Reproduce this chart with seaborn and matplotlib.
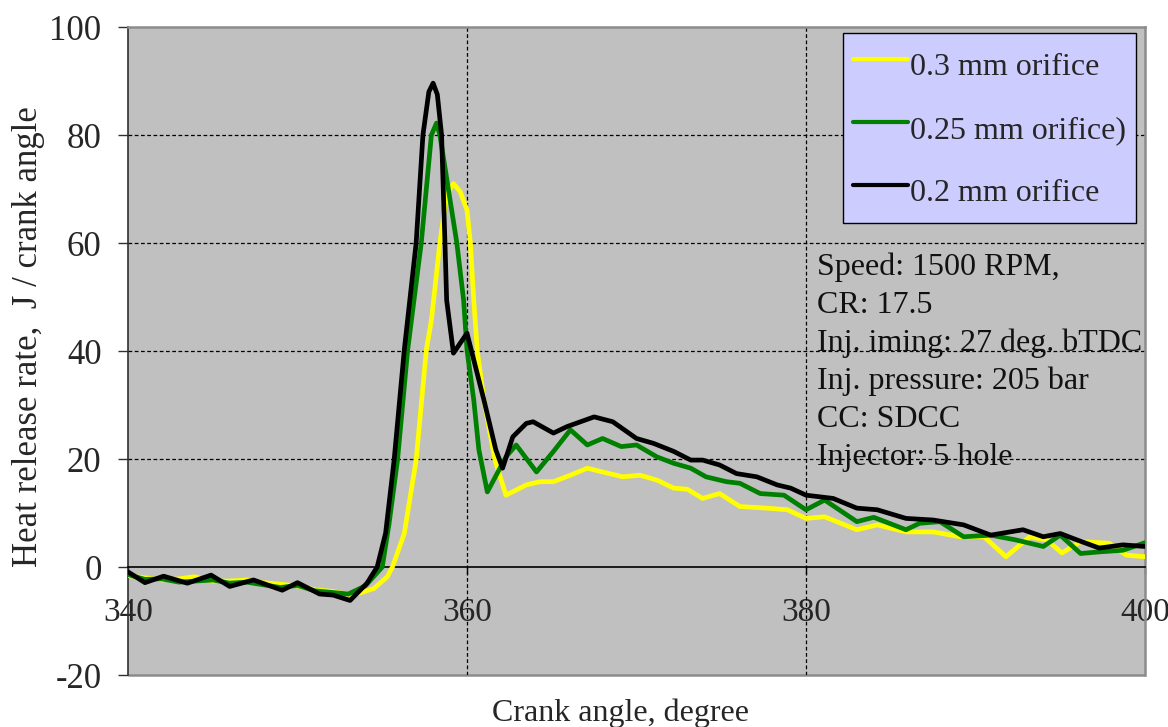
import numpy as np
import pandas as pd
import matplotlib
matplotlib.use("Agg")
import matplotlib.pyplot as plt
from matplotlib.patches import Rectangle
import seaborn as sns

# Heat release rate vs crank angle for three injector orifice diameters
labels = ["0.3 mm orifice", "0.25 mm orifice)", "0.2 mm orifice"]
colors = ["#FFFF00", "#008000", "#000000"]

angle_03 = [340.0, 341.0, 342.0, 343.0, 343.9, 345.0, 346.0, 347.0, 348.0, 349.0,
            350.0, 351.0, 352.0, 353.3, 354.5, 355.3, 355.6, 356.3, 357.0, 357.6,
            357.9, 358.4, 358.8, 359.2, 359.6, 360.0, 360.2, 360.4, 360.6, 361.0,
            361.65, 362.3, 363.5, 364.3, 365.1, 366.1, 367.1, 368.0, 369.2, 370.2,
            371.2, 372.2, 373.0, 373.9, 374.9, 376.1, 377.7, 378.9, 380.0, 381.1,
            383.0, 384.2, 385.9, 387.5, 389.1, 390.5, 391.8, 393.2, 394.2, 395.1,
            396.2, 397.9, 398.9, 400.0]
hrr_03 = [-1.6, -2.0, -2.4, -2.2, -1.8, -2.6, -2.6, -2.4, -2.9, -3.2,
          -3.5, -4.2, -4.5, -5.2, -4.0, -1.8, 0.0, 6.2, 19.8, 40.2,
          45.7, 60.0, 69.0, 71.0, 69.5, 66.1, 60.0, 49.4, 40.2, 30.9,
          19.8, 13.3, 15.2, 15.8, 15.8, 17.0, 18.3, 17.6, 16.7, 17.0,
          16.1, 14.6, 14.4, 12.7, 13.6, 11.2, 10.9, 10.6, 9.0, 9.3,
          6.9, 7.8, 6.5, 6.5, 5.6, 5.6, 1.9, 5.6, 5.0, 2.6,
          4.7, 4.4, 2.2, 1.9]

angle_025 = [340.0, 341.0, 342.0, 343.0, 344.0, 345.0, 346.0, 347.0, 348.0, 349.0,
             350.0, 351.0, 352.0, 353.0, 354.0, 355.0, 355.4, 355.9, 356.5, 357.3,
             357.9, 358.2, 358.4, 358.9, 359.4, 359.8, 360.0, 360.4, 360.7, 361.2,
             362.3, 362.9, 364.1, 365.1, 366.1, 367.1, 368.0, 369.1, 370.0, 371.2,
             372.2, 373.2, 374.1, 375.3, 376.1, 377.3, 378.7, 380.0, 381.1, 383.0,
             384.0, 385.9, 386.7, 387.9, 389.3, 390.9, 392.4, 394.0, 395.0, 396.2,
             397.3, 398.7, 400.0]
hrr_025 = [-1.4, -2.3, -2.2, -2.8, -2.6, -2.4, -3.0, -2.8, -3.3, -3.8,
           -3.4, -4.4, -4.7, -5.0, -3.5, 0.0, 8.0, 19.8, 40.2, 60.0,
           80.0, 82.2, 80.0, 70.0, 60.0, 49.4, 40.2, 30.9, 21.7, 13.9,
           20.4, 22.6, 17.6, 21.4, 25.4, 22.6, 23.8, 22.3, 22.6, 20.4,
           19.2, 18.3, 16.7, 15.8, 15.5, 13.6, 13.3, 10.6, 12.4, 8.4,
           9.2, 6.9, 8.1, 8.4, 5.6, 5.9, 5.0, 3.8, 5.9, 2.5,
           2.8, 3.1, 4.5]

angle_02 = [340.0, 341.0, 342.1, 343.5, 344.9, 346.0, 347.4, 349.1, 350.0, 351.3,
            352.1, 353.1, 354.1, 354.7, 355.2, 355.7, 356.3, 357.0, 357.4, 357.75,
            358.0, 358.25, 358.5, 358.7, 358.8, 359.2, 360.0, 361.0, 361.7, 362.1,
            362.7, 363.5, 363.9, 365.1, 365.9, 367.5, 368.6, 370.0, 371.0, 372.2,
            373.2, 373.9, 374.9, 375.9, 377.1, 378.3, 379.1, 380.0, 381.6, 383.0,
            384.2, 385.9, 387.5, 389.3, 390.9, 392.8, 394.0, 395.0, 396.0, 397.3,
            398.7, 400.0]
hrr_02 = [-0.9, -2.9, -1.7, -3.0, -1.5, -3.6, -2.4, -4.3, -2.9, -5.0,
          -5.2, -6.2, -3.0, 0.0, 6.3, 19.8, 40.2, 60.0, 80.0, 88.0,
          89.6, 87.5, 80.0, 60.0, 49.4, 39.6, 43.3, 30.9, 21.7, 18.3,
          24.1, 26.6, 26.9, 24.8, 26.0, 27.8, 26.9, 23.8, 22.9, 21.4,
          19.8, 19.8, 18.9, 17.3, 16.7, 15.2, 14.6, 13.3, 12.7, 10.9,
          10.6, 9.0, 8.7, 7.8, 5.9, 6.9, 5.6, 6.2, 5.0, 3.5,
          4.1, 3.8]

x_ticks = [340, 360, 380, 400]
y_ticks = [-20, 0, 20, 40, 60, 80, 100]

conditions = ("Speed: 1500 RPM,\nCR: 17.5\nInj. iming: 27 deg. bTDC\n"
              "Inj. pressure: 205 bar\nCC: SDCC\nInjector: 5 hole")

df = pd.concat([
    pd.DataFrame({"angle": angle_03, "hrr": hrr_03, "orifice": labels[0]}),
    pd.DataFrame({"angle": angle_025, "hrr": hrr_025, "orifice": labels[1]}),
    pd.DataFrame({"angle": angle_02, "hrr": hrr_02, "orifice": labels[2]}),
], ignore_index=True)

sns.set_style("white")
plt.rcParams["font.family"] = ["Liberation Serif", "DejaVu Serif"]
plt.rcParams["axes.unicode_minus"] = False

fig = plt.figure(figsize=(11.68, 7.27), dpi=100)
ax = fig.add_axes([128 / 1168, 52 / 727, 1017 / 1168, 648 / 727])
ax.set_facecolor("#C0C0C0")

sns.lineplot(data=df, x="angle", y="hrr", hue="orifice", hue_order=labels,
             palette=dict(zip(labels, colors)), estimator=None, sort=False,
             linewidth=3.4, ax=ax, zorder=3)
for ln in ax.get_lines():
    ln.set_solid_joinstyle("round")
    ln.set_solid_capstyle("round")

ax.set_xlim(340, 400)
ax.set_ylim(-20, 100)
ax.set_xticks(x_ticks)
ax.set_yticks(y_ticks)

# dotted grid at interior ticks only
for xv in x_ticks[1:-1]:
    ax.axvline(xv, color="black", lw=0.9, ls=(0, (3, 2)), zorder=1)
for yv in y_ticks[2:-1]:
    ax.axhline(yv, color="black", lw=0.9, ls=(0, (3, 2)), zorder=1)

# frame: grey border, dark left spine, x axis drawn through zero
for side in ["top", "right"]:
    ax.spines[side].set_color("#8C8C8C")
    ax.spines[side].set_linewidth(1.8)
ax.spines["left"].set_color("#303030")
ax.spines["left"].set_linewidth(1.2)
ax.spines["bottom"].set_position(("data", 0))
ax.spines["bottom"].set_color("black")
ax.spines["bottom"].set_linewidth(1.2)
ax.add_patch(Rectangle((0, 0), 1, 0, transform=ax.transAxes, fill=False,
                       edgecolor="#8C8C8C", lw=1.8, clip_on=False, zorder=0.5))

ax.tick_params(axis="y", direction="out", length=7, width=1, pad=12,
               labelsize=25, left=True, color="#303030")
ax.tick_params(axis="x", direction="out", length=5, width=1, pad=17,
               labelsize=24, bottom=True, color="black")

ax.set_xlabel("Crank angle, degree", fontsize=23)
ax.set_ylabel("Heat release rate,  J / crank angle", fontsize=25)
ax.xaxis.set_label_coords(0.484, -0.036)
ax.yaxis.set_label_coords(-0.082, 0.523)

handles, hlabels = ax.get_legend_handles_labels()
leg = ax.legend(handles, hlabels, loc="upper right", bbox_to_anchor=(0.991, 0.991),
                borderaxespad=0, fontsize=23, frameon=True, fancybox=False,
                facecolor="#CCCCFF", edgecolor="black", framealpha=1,
                handlelength=1.72, handleheight=1.75, handletextpad=0.05,
                labelspacing=0.59, borderpad=0.32)
leg.get_frame().set_linewidth(1.0)
leg.set_zorder(5)
for line in leg.get_lines():
    line.set_linewidth(3.0)

ax.text(380.65, 58.2, conditions, fontsize=23, va="top", ha="left",
        linespacing=1.39, zorder=2, color="#111111")

fig.savefig("out.png", dpi=100)
